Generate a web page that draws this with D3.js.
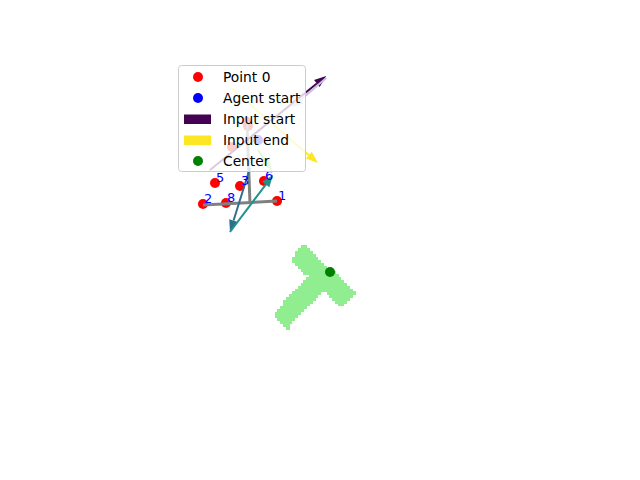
<!DOCTYPE html>
<html>
<head>
<meta charset="utf-8">
<script src="https://cdn.jsdelivr.net/npm/d3@7"></script>
<style>
  body { margin: 0; background: #fff; }
  text { font-family: "DejaVu Sans", sans-serif; }
</style>
</head>
<body>
<div id="chart"></div>
<script>
// keypoints (world units, image space 0..512, y down)
const pointIds = [0, 1, 2, 3, 4, 5, 6, 7, 8];
const pointX = [145.2, 185.4, 82.8, 134.1, 123.0, 99.5, 167.3, 143.8, 114.7];
const pointY = [94.8, 198.7, 202.8, 177.9, 123.8, 173.7, 170.9, 89.2, 201.4];
// labels readable outside the legend box
const labelIds = [1, 2, 3, 5, 6, 8];

// gray T skeleton
const skelX1 = [82.8, 147.9];
const skelY1 = [204.2, 201.4];
const skelX2 = [185.4, 143.8];
const skelY2 = [198.7, 89.3];

// agent start + goal center
const agentStart = [159.0, 114.1];
const center = [258.8, 297.0];

// input arrows, in order (start -> end)
const arrowX0 = [92.5, 253.5, 147.9, 120.2, 159.0, 121.6];
const arrowY0 = [155.7, 28.3, 152.9, 241.6, 128.0, 42.1];
const arrowX1 = [253.5, 205.0, 120.2, 179.8, 178.4, 242.1];
const arrowY1 = [25.5, 69.8, 241.6, 162.6, 157.1, 146.0];

// goal T outline
const goalX = [222.2, 293.4, 274.6, 249.1, 200.0, 179.8, 228.9, 203.4];
const goalY = [258.8, 324.7, 344.9, 321.4, 374.2, 355.3, 302.6, 279.0];

const legendLabels = ['Point 0', 'Agent start', 'Input start', 'Input end', 'Center'];

const width = 640, height = 480;
const cell = 4;

const svg = d3.select('#chart').append('svg')
  .attr('width', width)
  .attr('height', height);

const x = d3.scaleLinear().domain([0, 512]).range([143.2, 512.8]);
const y = d3.scaleLinear().domain([0, 512]).range([57.6, 427.2]);

// goal mask as pixel cells
const goalPoly = goalX.map((d, i) => [d, goalY[i]]);
const cells = [];
for (let gy = 240; gy < 380; gy += cell) {
  for (let gx = 170; gx < 300; gx += cell) {
    if (d3.polygonContains(goalPoly, [gx + cell / 2, gy + cell / 2])) cells.push([gx, gy]);
  }
}
svg.append('g')
  .attr('shape-rendering', 'crispEdges')
  .selectAll('rect')
  .data(cells)
  .enter().append('rect')
  .attr('x', d => x(d[0]))
  .attr('y', d => y(d[1]))
  .attr('width', x(cell) - x(0) + 0.5)
  .attr('height', y(cell) - y(0) + 0.5)
  .attr('fill', '#90ee90');

// keypoints
svg.append('g').selectAll('circle')
  .data(pointIds)
  .enter().append('circle')
  .attr('cx', i => x(pointX[i]))
  .attr('cy', i => y(pointY[i]))
  .attr('r', 5)
  .attr('fill', '#ff0000');

// skeleton
svg.append('g').selectAll('line')
  .data(skelX1)
  .enter().append('line')
  .attr('x1', (d, i) => x(skelX1[i]))
  .attr('y1', (d, i) => y(skelY1[i]))
  .attr('x2', (d, i) => x(skelX2[i]))
  .attr('y2', (d, i) => y(skelY2[i]))
  .attr('stroke', '#808080')
  .attr('stroke-width', 3);

// agent start
svg.append('circle')
  .attr('cx', x(agentStart[0]))
  .attr('cy', y(agentStart[1]))
  .attr('r', 5)
  .attr('fill', '#0000ff');

// arrows
const arrowColors = ['#440154', '#c8bfe0', '#2f6f8e', '#21918c', '#7ad151', '#fde725'];
const headLen = 12, headW = 4.5;
const ag = svg.append('g');
arrowX0.forEach((d, i) => {
  const sx = x(arrowX0[i]), sy = y(arrowY0[i]);
  const ex = x(arrowX1[i]), ey = y(arrowY1[i]);
  const len = Math.hypot(ex - sx, ey - sy);
  const ux = (ex - sx) / len, uy = (ey - sy) / len;
  const bx = ex - ux * headLen, by = ey - uy * headLen;
  ag.append('line')
    .attr('x1', sx).attr('y1', sy)
    .attr('x2', bx).attr('y2', by)
    .attr('stroke', arrowColors[i])
    .attr('stroke-width', 2);
  ag.append('path')
    .attr('d', `M${ex},${ey}L${bx - uy * headW},${by + ux * headW}L${bx + uy * headW},${by - ux * headW}Z`)
    .attr('fill', arrowColors[i]);
});

// keypoint labels
svg.append('g').selectAll('text')
  .data(labelIds)
  .enter().append('text')
  .attr('x', i => x(pointX[i]) + 1)
  .attr('y', i => y(pointY[i]) - 1)
  .attr('font-size', 13)
  .attr('fill', '#0000ff')
  .text(i => i);

// center
svg.append('circle')
  .attr('cx', x(center[0]))
  .attr('cy', y(center[1]))
  .attr('r', 5)
  .attr('fill', '#008000');

// legend
const lg = svg.append('g').attr('transform', 'translate(178.5,65.5)');
lg.append('rect')
  .attr('width', 127)
  .attr('height', 106)
  .attr('rx', 3)
  .attr('fill', '#ffffff')
  .attr('fill-opacity', 0.8)
  .attr('stroke', '#cccccc');

const rows = lg.selectAll('g.row')
  .data(legendLabels)
  .enter().append('g')
  .attr('class', 'row')
  .attr('transform', (d, i) => `translate(0,${11.5 + i * 21})`);

rows.each(function (d, i) {
  const r = d3.select(this);
  if (i === 2 || i === 3) {
    r.append('rect')
      .attr('x', 5.5).attr('y', -4.5)
      .attr('width', 27).attr('height', 9.5)
      .attr('fill', i === 2 ? '#440154' : '#fde725');
  } else {
    r.append('circle')
      .attr('cx', 19.5).attr('cy', 0)
      .attr('r', 5)
      .attr('fill', ['#ff0000', '#0000ff', null, null, '#008000'][i]);
  }
  r.append('text')
    .attr('x', 44.5)
    .attr('y', 5)
    .attr('font-size', 13.8)
    .attr('fill', '#000')
    .text(d);
});
</script>
</body>
</html>
